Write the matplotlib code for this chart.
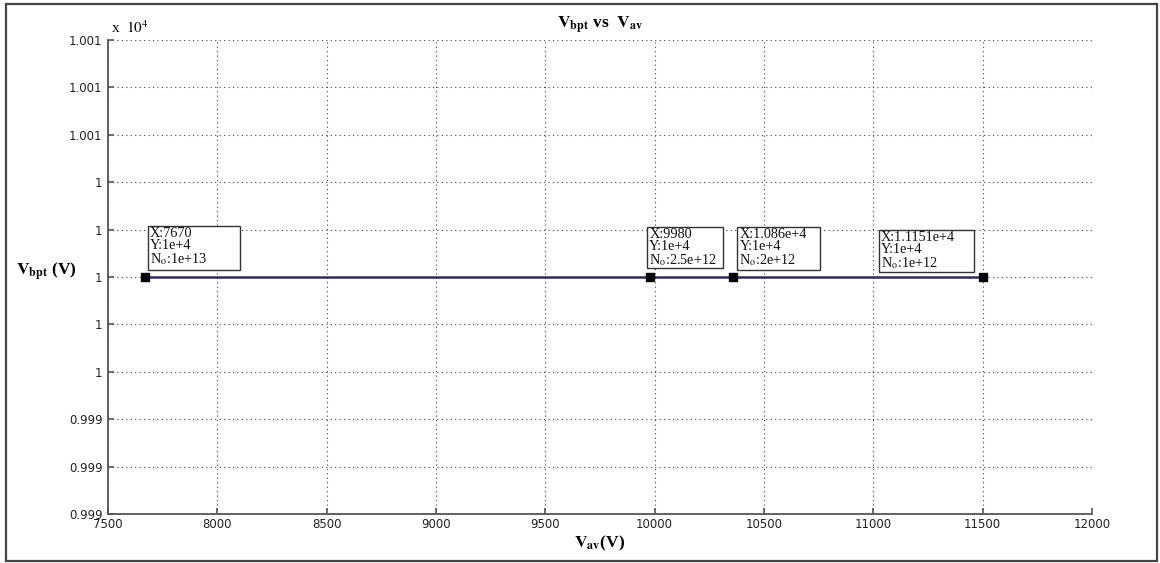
import numpy as np
import matplotlib
matplotlib.use('Agg')
import matplotlib.pyplot as plt
from matplotlib.ticker import FixedLocator, FixedFormatter
from matplotlib.patches import Rectangle

plt.rcParams['font.family'] = ['Liberation Serif', 'DejaVu Serif']
plt.rcParams['mathtext.fontset'] = 'stix'

# Operating points (V_av, V_bpt) and their datatip texts
v_av = [7670, 9980, 10360, 11500]
v_bpt = [1e4, 1e4, 1e4, 1e4]
tip_x = ['X:7670', 'X:9980', 'X:1.086e+4', 'X:1.1151e+4']
tip_y = ['Y:1e+4', 'Y:1e+4', 'Y:1e+4', 'Y:1e+4']
tip_n = ['1e+13', '2.5e+12', '2e+12', '1e+12']

# Axis ticks
x_ticks = [7500, 8000, 8500, 9000, 9500, 10000, 10500, 11000, 11500, 12000]
y_ticks = [9990, 9992, 9994, 9996, 9998, 10000, 10002, 10004, 10006, 10008, 10010]
y_tick_labels = ['0.999', '0.999', '0.999', '1', '1', '1', '1', '1',
                 '1.001', '1.001', '1.001']

W, H = 1160, 563
fig = plt.figure(figsize=(W/100, H/100), dpi=100)
ax = fig.add_axes([108/W, 1 - 514/H, 984/W, 474/H])

# outer frame round the whole figure
fig.patches.append(Rectangle((6/W, 2/H), 1151/W, 557/H,
                             transform=fig.transFigure, fill=False,
                             ec='#444444', lw=1.6))

ax.plot(v_av, v_bpt, color='#2e2e5c', lw=1.8, zorder=3)
ax.plot(v_av, v_bpt, ls='none', marker='s', ms=5.5, color='black', zorder=4)

ax.set_xlim(7500, 12000)
ax.set_ylim(9990, 10010)

# datatip boxes, pixel offsets from each marker: left, right, top, bottom (down = +)
box_px = [(3, 95, -51, -7), (-3, 73, -50, -9), (4, 87, -50, -7), (-104, -9, -47, -5)]
for i in range(len(v_av)):
    l, r, t, b = box_px[i]
    px, py = ax.transData.transform((v_av[i], v_bpt[i]))
    ax.add_patch(Rectangle(((px + l)/W, (py - b)/H), (r - l)/W, (b - t)/H,
                           transform=fig.transFigure, fc='white',
                           ec='#333333', lw=1.0, zorder=5, clip_on=False))
    txt = tip_x[i] + '\n' + tip_y[i] + '\n' + r'N$_\mathrm{o}$:' + tip_n[i]
    ax.annotate(txt, (v_av[i], v_bpt[i]), textcoords='offset pixels',
                xytext=(l + 2, -t - 1), ha='left', va='top', fontsize=10.3,
                linespacing=0.9, color='#111111', zorder=6)

ax.xaxis.set_major_locator(FixedLocator(x_ticks))
ax.yaxis.set_major_locator(FixedLocator(y_ticks))
ax.yaxis.set_major_formatter(FixedFormatter(y_tick_labels))

for lab in ax.get_xticklabels() + ax.get_yticklabels():
    lab.set_family('DejaVu Sans')
    lab.set_fontsize(8.5)
    lab.set_color('#222222')

ax.tick_params(direction='in', length=4, width=1.2, color='#555555')
ax.tick_params(axis='y', pad=4)
ax.tick_params(axis='x', pad=3)
for s in ['top', 'right']:
    ax.spines[s].set_visible(False)
for s in ['left', 'bottom']:
    ax.spines[s].set_color('#555555')
    ax.spines[s].set_linewidth(1.3)

ax.grid(True, ls=(0, (1, 3)), color='#444444', lw=0.8)

ax.set_title(r'$\mathbf{V_{bpt}}$ vs  $\mathbf{V_{av}}$', fontsize=12.5,
             fontweight='bold', pad=8)
ax.set_xlabel(r'$\mathbf{V_{av}}$(V)', fontsize=12.5, fontweight='bold',
              labelpad=2)
ax.set_ylabel(r'$\mathbf{V_{bpt}}$ (V)', fontsize=12.5, fontweight='bold',
              rotation=0, ha='center', va='center')
ax.yaxis.set_label_coords(-0.063, 0.51)

ax.text(0.003, 1.008, r'x  $10^{4}$', transform=ax.transAxes, fontsize=11,
        ha='left', va='bottom')

plt.savefig('out.png', dpi=100)
